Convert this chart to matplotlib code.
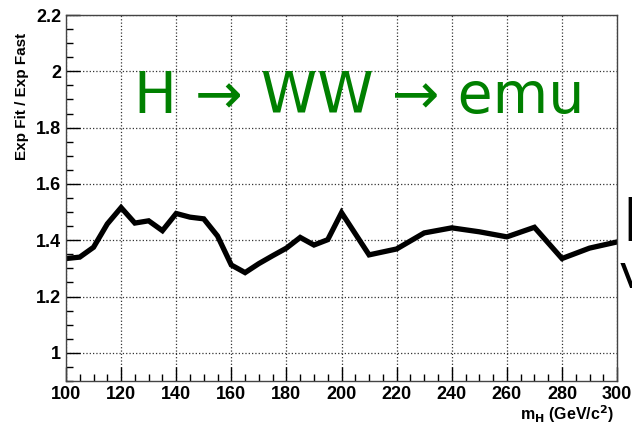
import matplotlib
matplotlib.use("Agg")
import matplotlib.pyplot as plt
from matplotlib.ticker import MultipleLocator

# mass points and ratio values
mass = [100, 105, 110, 115, 120, 125, 130, 135, 140, 145, 150, 155, 160, 165,
        170, 175, 180, 185, 190, 195, 200, 210, 220, 230, 240, 250, 260, 270,
        280, 290, 300]
ratio = [1.335, 1.34, 1.375, 1.458, 1.516, 1.461, 1.469, 1.434, 1.495, 1.482,
         1.476, 1.415, 1.312, 1.285, 1.317, 1.345, 1.372, 1.41, 1.383, 1.402,
         1.498, 1.348, 1.369, 1.426, 1.444, 1.43, 1.412, 1.446, 1.335, 1.372,
         1.394]

plt.rcParams['font.family'] = ['Liberation Sans', 'DejaVu Sans']

fig = plt.figure(figsize=(6.32, 4.30), dpi=100)
ax = fig.add_axes([0.1044, 0.114, 0.872, 0.851])

ax.plot(mass, ratio, color='black', lw=3.8, solid_joinstyle='miter')

ax.set_xlim(100, 300)
ax.set_ylim(0.9, 2.2)
ax.xaxis.set_major_locator(MultipleLocator(20))
ax.xaxis.set_minor_locator(MultipleLocator(5))
ax.yaxis.set_major_locator(MultipleLocator(0.2))
ax.yaxis.set_minor_locator(MultipleLocator(0.05))
ax.tick_params(which='both', direction='in', top=False, right=False,
               labelsize=13, width=1)
ax.tick_params(which='major', length=10)
ax.tick_params(which='minor', length=5)
ax.set_yticks([1, 1.2, 1.4, 1.6, 1.8, 2, 2.2])
ax.set_yticklabels(['1', '1.2', '1.4', '1.6', '1.8', '2', '2.2'])
for lab in ax.get_xticklabels() + ax.get_yticklabels():
    lab.set_fontweight('bold')
ax.grid(True, which='major', linestyle=':', color='#333333', lw=0.9)
for s in ax.spines.values():
    s.set_color('#444444')
    s.set_linewidth(1)

fig.text(0.035, 0.775, 'Exp Fit / Exp Fast', rotation=90, ha='center',
         va='center', fontsize=11, fontweight='bold')
fig.text(0.972, 0.012, r'm$_\mathbf{H}$ (GeV/c$^\mathbf{2}$)', ha='right',
         va='bottom', fontsize=11.5, fontweight='bold')

fig.text(0.212, 0.737, 'H → WW → emu', color='#008000', fontsize=41,
         family='DejaVu Sans', ha='left', va='baseline')

# text cut off at the right edge of the slide (as in the reference)
fig.text(0.985, 0.44, 'I', color='black', fontsize=44, fontweight='bold',
         ha='left', va='baseline', family='DejaVu Sans')
fig.text(0.978, 0.33, 'v', color='black', fontsize=34, ha='left',
         va='baseline', family='DejaVu Sans')

fig.savefig('out.png', dpi=100)
